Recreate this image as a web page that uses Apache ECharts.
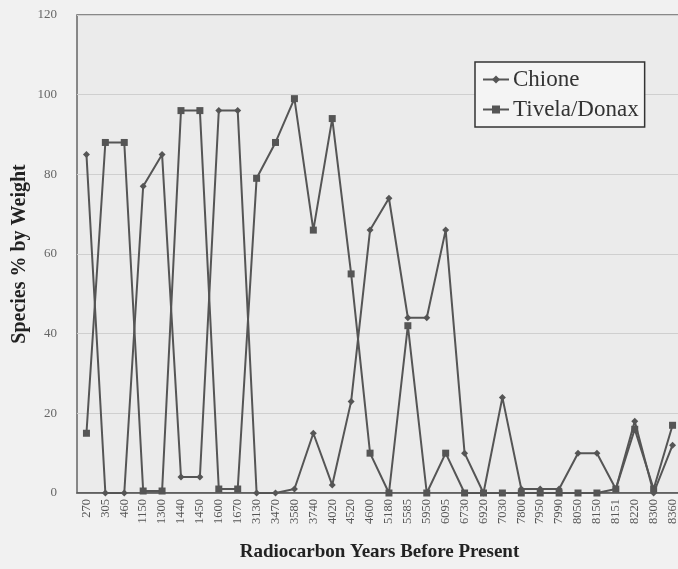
<!DOCTYPE html>
<html>
<head>
<meta charset="utf-8">
<script src="https://cdn.jsdelivr.net/npm/echarts@6/dist/echarts.min.js"></script>
<style>
  html, body { margin: 0; padding: 0; background: #f1f1f1; }
  #chart { width: 678px; height: 569px; }
</style>
</head>
<body>
<div id="chart"></div>
<script>
var years = ['270', '305', '460', '1150', '1300', '1440', '1450', '1600', '1670', '3130',
  '3470', '3580', '3740', '4020', '4520', '4600', '5180', '5585', '5950', '6095',
  '6730', '6920', '7030', '7800', '7950', '7990', '8050', '8150', '8151', '8220',
  '8300', '8360']
var chione = [85, 0, 0, 77, 85, 4, 4, 96, 96, 0,
  0, 1, 15, 2, 23, 66, 74, 44, 44, 66,
  10, 0, 24, 1, 1, 1, 10, 10, 1, 18,
  0, 12]
var tivela = [15, 88, 88, 0.5, 0.5, 96, 96, 1, 1, 79,
  88, 99, 66, 94, 55, 10, 0, 42, 0, 10,
  0, 0, 0, 0, 0, 0, 0, 0, 1, 16,
  1, 17]

var chart = echarts.init(document.getElementById('chart'))
var serif = '"Liberation Serif", "DejaVu Serif", serif'
var ink = '#555'

var option = {
  backgroundColor: '#f1f1f1',
  animation: false,
  textStyle: { fontFamily: serif },
  grid: {
    left: 77,
    top: 15,
    width: 605,
    height: 478,
    outerBoundsMode: 'none',
    show: true,
    backgroundColor: '#ebebeb',
    borderColor: '#666',
    borderWidth: 1.5
  },
  legend: {
    orient: 'vertical',
    left: 475,
    top: 62,
    padding: [6, 6, 6, 7],
    itemGap: 7,
    itemWidth: 26,
    itemHeight: 10,
    borderColor: '#333',
    borderWidth: 1.5,
    backgroundColor: '#f4f4f4',
    textStyle: { fontFamily: serif, fontSize: 23, lineHeight: 22, color: '#333', padding: [0, 0, 0, -1] },
    data: ['Chione', 'Tivela/Donax']
  },
  xAxis: {
    type: 'category',
    data: years,
    boundaryGap: true,
    name: 'Radiocarbon Years Before Present',
    nameLocation: 'middle',
    nameGap: 50,
    nameTextStyle: { fontFamily: serif, fontSize: 19, fontWeight: 'bold', color: '#222' },
    axisLine: { show: true, lineStyle: { color: '#555', width: 1.5 } },
    axisTick: { show: false },
    axisLabel: { rotate: 90, interval: 0, fontFamily: serif, fontSize: 12.5, color: '#555', margin: 6 },
    splitLine: { show: false }
  },
  yAxis: {
    type: 'value',
    min: 0,
    max: 120,
    interval: 20,
    name: 'Species % by Weight',
    nameLocation: 'middle',
    nameGap: 47,
    nameMoveOverlap: false,
    nameTextStyle: { fontFamily: serif, fontSize: 20, fontWeight: 'bold', color: '#222' },
    axisLine: { show: false },
    axisTick: { show: false },
    axisLabel: { fontFamily: serif, fontSize: 13, color: '#666', margin: 20 },
    splitLine: { show: true, lineStyle: { color: '#cfcfcf', width: 1.2 } }
  },
  series: [
    {
      name: 'Chione',
      type: 'line',
      data: chione,
      symbol: 'diamond',
      symbolSize: 7,
      lineStyle: { color: ink, width: 2 },
      itemStyle: { color: ink }
    },
    {
      name: 'Tivela/Donax',
      type: 'line',
      data: tivela,
      symbol: 'rect',
      symbolSize: 7,
      lineStyle: { color: ink, width: 2 },
      itemStyle: { color: ink }
    }
  ]
}
chart.setOption(option)
</script>
</body>
</html>
